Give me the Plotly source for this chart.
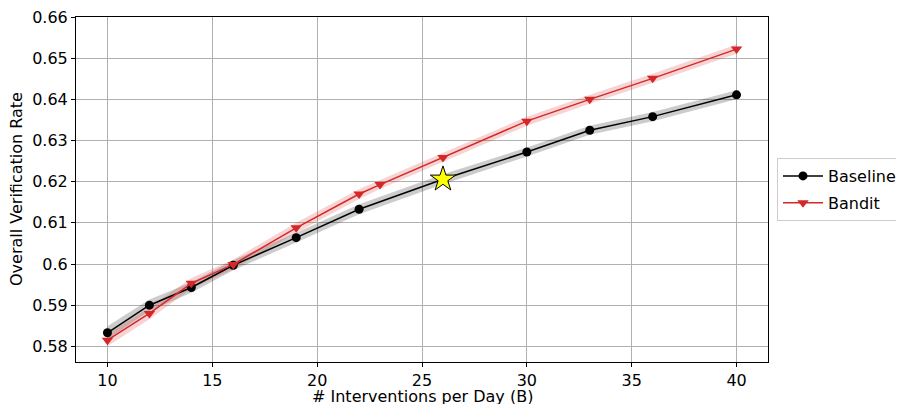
import plotly.graph_objects as go

# Data
base_x = [10, 12, 14, 16, 19, 22, 26, 30, 33, 36, 40]
base_y = [0.5833, 0.5900, 0.5943, 0.5997, 0.6064, 0.6133, 0.6206, 0.6272, 0.6325, 0.6358, 0.6411]
base_err = [0.0016, 0.0014, 0.0013, 0.0012, 0.0012, 0.0012, 0.0012, 0.0011, 0.0011, 0.0011, 0.0011]

bandit_x = [10, 12, 14, 16, 19, 22, 23, 26, 30, 33, 36, 40]
bandit_y = [0.5815, 0.5880, 0.5953, 0.5999, 0.6088, 0.6170, 0.6193, 0.6259, 0.6347, 0.6400, 0.6451, 0.6522]
bandit_err = [0.0015, 0.0014, 0.0013, 0.0012, 0.0012, 0.0012, 0.0011, 0.0011, 0.0011, 0.0011, 0.0011, 0.0011]

star_x = [26]
star_y = [0.6206]

y_ticks = [0.58, 0.59, 0.60, 0.61, 0.62, 0.63, 0.64, 0.65, 0.66]
y_labels = ["0.58", "0.59", "0.6", "0.61", "0.62", "0.63", "0.64", "0.65", "0.66"]
x_ticks = [10, 15, 20, 25, 30, 35, 40]

x_title = "# Interventions per Day (B)"
y_title = "Overall Verification Rate"

FONT = "DejaVu Sans"
BLACK = "#000000"
RED = "#d62728"

fig = go.Figure()

def band(xs, ys, errs, color):
    up = [y + e for y, e in zip(ys, errs)]
    lo = [y - e for y, e in zip(ys, errs)]
    fig.add_trace(go.Scatter(x=xs + xs[::-1], y=up + lo[::-1], fill="toself",
                             fillcolor=color, line=dict(width=0), mode="lines",
                             hoverinfo="skip", showlegend=False))

band(base_x, base_y, base_err, "rgba(0,0,0,0.2)")
band(bandit_x, bandit_y, bandit_err, "rgba(214,39,40,0.2)")

fig.add_trace(go.Scatter(x=base_x, y=base_y, mode="lines+markers", name="Baseline",
                         legendgroup="a",
                         line=dict(color=BLACK, width=1.5),
                         marker=dict(symbol="circle", size=9, color=BLACK)))
fig.add_trace(go.Scatter(x=bandit_x, y=bandit_y, mode="lines+markers", name="Bandit",
                         legendgroup="b",
                         line=dict(color=RED, width=1.5),
                         marker=dict(symbol="triangle-down", size=10, color=RED)))
fig.add_trace(go.Scatter(x=star_x, y=star_y, mode="markers", showlegend=False,
                         marker=dict(symbol="star", size=19, color="yellow",
                                     line=dict(color=BLACK, width=1))))

axis_common = dict(showline=True, linecolor=BLACK, linewidth=1, mirror=True,
                   ticks="outside", ticklen=4, tickcolor=BLACK, automargin=False,
                   ticklabeloverflow="allow",
                   showgrid=True, gridcolor="#b0b0b0", gridwidth=1, zeroline=False,
                   tickfont=dict(family=FONT, size=16, color=BLACK))

fig.update_xaxes(range=[8.5, 41.5], tickvals=x_ticks, **axis_common)
fig.update_yaxes(range=[0.5762, 0.66], tickvals=y_ticks, ticktext=y_labels, **axis_common)

# axis titles as annotations for exact placement
fig.add_annotation(text=x_title, xref="paper", yref="paper", x=0.5, y=0,
                   xanchor="center", yanchor="top", yshift=-23, showarrow=False,
                   font=dict(family=FONT, size=16, color=BLACK))
fig.add_annotation(text=y_title, xref="paper", yref="paper", x=0, y=0.5,
                   xanchor="right", yanchor="middle", xshift=-48, textangle=-90,
                   showarrow=False, font=dict(family=FONT, size=16, color=BLACK))

# the page body has an 8px default margin: size the div to fit the window;
# margins stay fixed so the legend runs to the right edge, as in the reference
fig.update_layout(
    width=896, height=396,
    margin=dict(l=68, r=136, t=9, b=42, autoexpand=False),
    paper_bgcolor="white", plot_bgcolor="white",
    font=dict(family=FONT, size=16, color=BLACK),
    legend=dict(x=1.013, y=0.5, xanchor="left", yanchor="middle",
                bordercolor="#cccccc", borderwidth=1, bgcolor="white",
                font=dict(family=FONT, size=16, color=BLACK),
                tracegroupgap=3, itemwidth=40),
)

fig.write_html("out.html")
